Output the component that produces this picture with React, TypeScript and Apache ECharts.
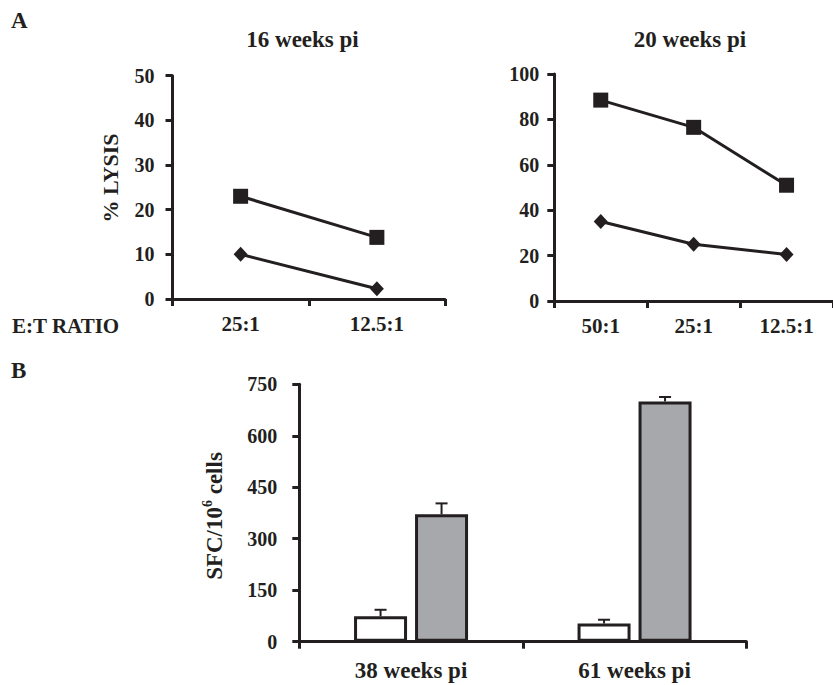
import React, { useEffect, useRef } from "react";
import * as echarts from "echarts";

// Panel A, 16 weeks pi
const categoriesA1 = ["25:1", "12.5:1"];
const squareA1 = [23, 13.8];
const diamondA1 = [10, 2.3];
const ticksA1 = { min: 0, max: 50, interval: 10 };

// Panel A, 20 weeks pi
const categoriesA2 = ["50:1", "25:1", "12.5:1"];
const squareA2 = [88.5, 76.5, 51];
const diamondA2 = [35, 25, 20.5];
const ticksA2 = { min: 0, max: 100, interval: 20 };

// Panel B
const categoriesB = ["38 weeks pi", "61 weeks pi"];
const whiteB = [74, 53];
const whiteErrB = [19, 11];
const greyB = [371, 700];
const greyErrB = [32, 13];
const ticksB = { min: 0, max: 750, interval: 150 };

const INK = "#231f20";
const FONT = '"Liberation Serif", "Times New Roman", Times, serif';
const BAR_W = 53;
const BAR_GAP = 8;

function App() {
  const ref = useRef<HTMLDivElement>(null);

  useEffect(() => {
    if (!ref.current) return;
    const chart = echarts.init(ref.current, undefined, { renderer: "svg" });

    const axisLine = { show: true, lineStyle: { color: INK, width: 3 } };
    const axisTick = { show: true, inside: false, length: 7, lineStyle: { color: INK, width: 3 } };
    const lbl = (size: number, margin: number) => ({
      color: INK,
      fontFamily: FONT,
      fontWeight: "bold" as const,
      fontSize: size,
      margin,
    });

    const errSeries = (vals: number[], errs: number[], off: number) => ({
      type: "custom",
      xAxisIndex: 2,
      yAxisIndex: 2,
      z: 5,
      encode: { x: 0, y: [1, 2] },
      data: vals.map((v, i) => [i, v, v + errs[i]]),
      renderItem: (params: any, api: any) => {
        const p0 = api.coord([api.value(0), api.value(1)]);
        const p1 = api.coord([api.value(0), api.value(2)]);
        const x = p0[0] + off;
        const st = { stroke: INK, lineWidth: 2 };
        return {
          type: "group",
          children: [
            { type: "line", shape: { x1: x, y1: p0[1], x2: x, y2: p1[1] }, style: st },
            { type: "line", shape: { x1: x - 6, y1: p1[1], x2: x + 6, y2: p1[1] }, style: st },
          ],
        };
      },
    });

    const lineSeries = (data: number[], symbol: string, size: any, xi: number) => ({
      type: "line",
      xAxisIndex: xi,
      yAxisIndex: xi,
      data,
      symbol,
      symbolSize: size,
      lineStyle: { color: INK, width: 3 },
      itemStyle: { color: INK },
    });

    const off = BAR_W / 2 + BAR_GAP / 2;

    chart.setOption({
      animation: false,
      backgroundColor: "#ffffff",
      grid: [
        { left: 172.5, top: 75.7, width: 272.5, height: 223.3 },
        { left: 554.3, top: 74, width: 286.5, height: 227 },
        { left: 299.3, top: 384.3, width: 447, height: 257.4 },
      ],
      xAxis: [
        { type: "category", gridIndex: 0, data: categoriesA1, axisLine, axisTick, axisLabel: lbl(21, 14), splitLine: { show: false } },
        { type: "category", gridIndex: 1, data: categoriesA2, axisLine, axisTick, axisLabel: lbl(21, 14), splitLine: { show: false } },
        { type: "category", gridIndex: 2, data: categoriesB, axisLine, axisTick, axisLabel: lbl(23, 17), splitLine: { show: false } },
      ],
      yAxis: [
        { type: "value", gridIndex: 0, ...ticksA1, axisLine, axisTick, axisLabel: lbl(20, 18), splitLine: { show: false } },
        { type: "value", gridIndex: 1, ...ticksA2, axisLine, axisTick, axisLabel: lbl(20, 15), splitLine: { show: false } },
        { type: "value", gridIndex: 2, ...ticksB, axisLine, axisTick, axisLabel: lbl(20, 22), splitLine: { show: false } },
      ],
      series: [
        lineSeries(squareA1, "rect", 15, 0),
        lineSeries(diamondA1, "diamond", [14, 15], 0),
        lineSeries(squareA2, "rect", 15, 1),
        lineSeries(diamondA2, "diamond", [14, 15], 1),
        {
          type: "bar",
          xAxisIndex: 2,
          yAxisIndex: 2,
          data: whiteB,
          barWidth: BAR_W,
          barGap: `${(BAR_GAP / BAR_W) * 100}%`,
          itemStyle: { color: "#ffffff", borderColor: INK, borderWidth: 3 },
        },
        {
          type: "bar",
          xAxisIndex: 2,
          yAxisIndex: 2,
          data: greyB,
          barWidth: BAR_W,
          barGap: `${(BAR_GAP / BAR_W) * 100}%`,
          itemStyle: { color: "#a7a8ab", borderColor: INK, borderWidth: 3 },
        },
        errSeries(whiteB, whiteErrB, -off),
        errSeries(greyB, greyErrB, off),
      ],
      graphic: [
        { type: "text", left: 11, top: 9, style: { text: "A", font: `bold 23px ${FONT}`, fill: INK } },
        { type: "text", left: 11, top: 359, style: { text: "B", font: `bold 23px ${FONT}`, fill: INK } },
        { type: "text", x: 302.5, y: 39, style: { text: "16 weeks pi", font: `bold 23px ${FONT}`, fill: INK, align: "center", verticalAlign: "middle" } },
        { type: "text", x: 690, y: 39, style: { text: "20 weeks pi", font: `bold 23px ${FONT}`, fill: INK, align: "center", verticalAlign: "middle" } },
        { type: "text", x: 12, y: 326, style: { text: "E:T RATIO", font: `bold 21px ${FONT}`, fill: INK, align: "left", verticalAlign: "middle" } },
        {
          type: "text",
          x: 110,
          y: 178,
          rotation: Math.PI / 2,
          style: { text: "% LYSIS", font: `bold 22px ${FONT}`, fill: INK, align: "center", verticalAlign: "middle" },
        },
        {
          type: "text",
          x: 214,
          y: 516,
          rotation: Math.PI / 2,
          style: {
            text: "{m|SFC/10}{s|6}{m| cells}",
            align: "center",
            verticalAlign: "middle",
            rich: {
              m: { fontFamily: FONT, fontWeight: "bold", fontSize: 23, lineHeight: 28, fill: INK, color: INK },
              s: { fontFamily: FONT, fontWeight: "bold", fontSize: 14, lineHeight: 14, verticalAlign: "top", fill: INK, color: INK },
            },
          },
        },
      ],
    });

    return () => chart.dispose();
  }, []);

  return (
    <div
      ref={ref}
      style={{ position: "absolute", left: 0, top: 0, width: 833, height: 685, background: "#fff" }}
    />
  );
}

export default App;
